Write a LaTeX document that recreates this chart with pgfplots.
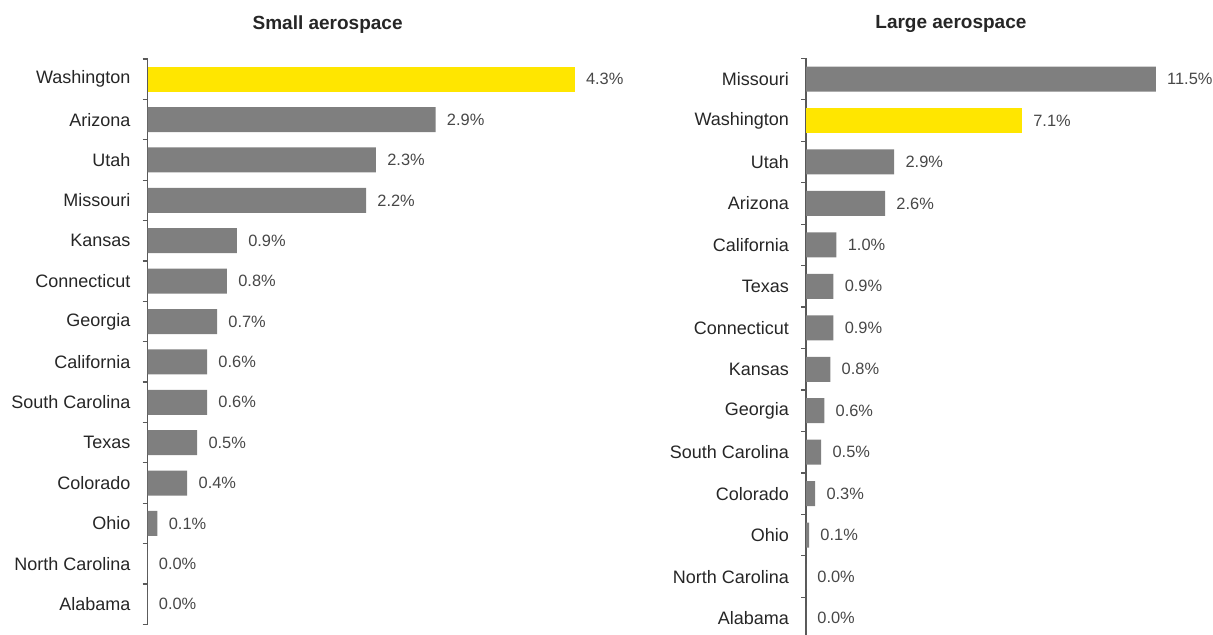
\documentclass[border=0pt]{standalone}
\usepackage{fontspec}
\setmainfont{Liberation Sans}
\usepackage{pgfplots}
\pgfplotsset{compat=1.18}
\definecolor{eyyellow}{HTML}{FFE600}
\definecolor{bargray}{HTML}{7F7F7F}
\definecolor{axgray}{HTML}{595959}
\definecolor{txt}{HTML}{262626}
\begin{document}
\begin{tikzpicture}
\path[use as bounding box] (0,0) rectangle (606.5pt,-317.5pt);
\pgfplotsset{
 hb/.style={
  scale only axis,
  xbar, bar width=12.5pt,
  xmin=0, ymin=-0.5, ymax=13.5,
  axis x line=none,
  axis y line*=left,
  axis line style={axgray, line width=0.75pt},
  ytick={0,...,13},
  major tick length=0pt,
  minor ytick={-0.5,0.5,...,13.5},
  minor tick length=2.5pt,
  tick align=outside,
  minor tick style={axgray, line width=0.6pt},
  yticklabel style={font=\fontsize{9}{10}\selectfont, text=txt, xshift=-5pt},
  nodes near coords={\pgfmathprintnumber[fixed,fixed zerofill,precision=1]{\pgfplotspointmeta}\%},
  nodes near coords style={font=\fontsize{8.2}{9}\selectfont, text=txt!85, anchor=west, inner sep=0pt, xshift=5.5pt},
  /pgf/number format/assume math mode=true,
  title style={font=\bfseries\fontsize{9.5}{11}\selectfont, text=txt, anchor=base},
  clip=false,
 }
}
\begin{axis}[hb, at={(73.75pt,-312.2pt)}, anchor=south west, width=223.5pt, height=282.7pt, xmax=4.5,
 yticklabels={Alabama, North Carolina, Ohio, Colorado, Texas, South Carolina, California, Georgia, Connecticut, Kansas, Missouri, Utah, Arizona, Washington},
 title={Small aerospace}, title style={at={(axis description cs:0.403,1)}, yshift=8.5pt}]
\addplot[fill=bargray, draw=none, bar shift=0pt] coordinates {
 (2.9,12) (2.3,11) (2.2,10) (0.9,9) (0.8,8) (0.7,7) (0.6,6) (0.6,5) (0.5,4) (0.4,3) (0.1,2) (0.0,1) (0.0,0)};
\addplot[fill=eyyellow, draw=none, bar shift=0pt] coordinates {(4.3,13)};
\end{axis}
\begin{axis}[hb, at={(403pt,-319.4pt)}, anchor=south west, width=182.5pt, height=290.25pt, xmax=12,
 yticklabels={Alabama, North Carolina, Ohio, Colorado, South Carolina, Georgia, Kansas, Connecticut, Texas, California, Arizona, Utah, Washington, Missouri},
 title={Large aerospace}, title style={at={(axis description cs:0.397,1)}, yshift=8.8pt}]
\addplot[fill=bargray, draw=none, bar shift=0pt] coordinates {
 (11.5,13) (2.9,11) (2.6,10) (1.0,9) (0.9,8) (0.9,7) (0.8,6) (0.6,5) (0.5,4) (0.3,3) (0.1,2) (0.0,1) (0.0,0)};
\addplot[fill=eyyellow, draw=none, bar shift=0pt] coordinates {(7.1,12)};
\end{axis}
\end{tikzpicture}
\end{document}
